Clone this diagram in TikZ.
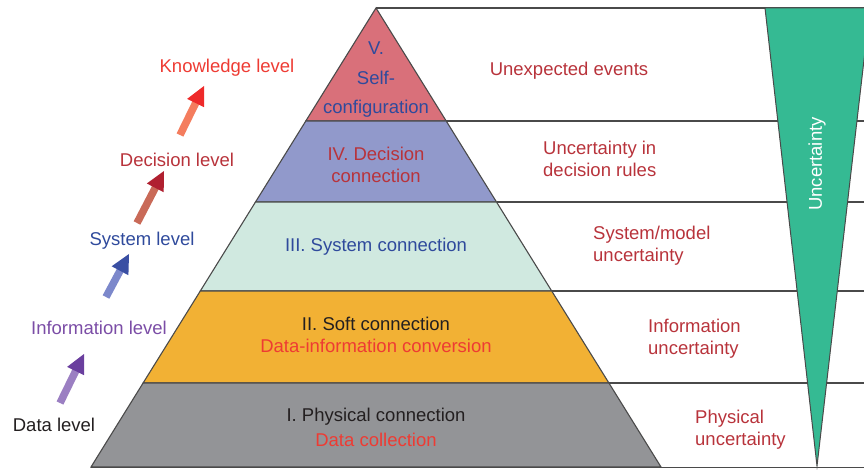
\documentclass[tikz,border=0pt]{standalone}
\usepackage{fontspec}
\setmainfont{Liberation Sans}
\usetikzlibrary{calc}
\definecolor{darkred}{HTML}{B8333B}
\definecolor{brightred}{HTML}{EE3B33}
\definecolor{bluetxt}{HTML}{2F4A9C}
\definecolor{purptxt}{HTML}{7B4DA6}
\definecolor{darktxt}{HTML}{231F20}
\definecolor{layerV}{HTML}{D9707A}
\definecolor{layerIV}{HTML}{9199CB}
\definecolor{layerIII}{HTML}{D0E9E0}
\definecolor{layerII}{HTML}{F2B134}
\definecolor{layerI}{HTML}{939497}
\definecolor{uncgreen}{HTML}{35BA93}
\definecolor{lineg}{HTML}{4A4A4A}
\definecolor{sh1}{HTML}{9B7FC2}\definecolor{hd1}{HTML}{6A3F9E}
\definecolor{sh2}{HTML}{7C88CB}\definecolor{hd2}{HTML}{3A4FA3}
\definecolor{sh3}{HTML}{C96A58}\definecolor{hd3}{HTML}{B02030}
\definecolor{sh4}{HTML}{F47D5E}\definecolor{hd4}{HTML}{EE2A2A}
\tikzset{
  txt/.style={font=\fontsize{18.5}{22}\selectfont, inner sep=0pt, align=center, yshift=-2pt},
  txtl/.style={font=\fontsize{18.5}{22}\selectfont, inner sep=0pt, align=left, yshift=-2pt},
  layer/.style={draw=lineg, line width=1.1pt},
  hline/.style={draw=lineg, line width=1.2pt},
}
\newcommand{\fatarrow}[4]{%
  \draw[line width=7.5pt, color=#3] (#1) -- ($(#2)!16pt!(#1)$);
  \fill[#4] (#2) -- ($($(#2)!19pt!(#1)$)!9.5pt!90:(#2)$) -- ($($(#2)!19pt!(#1)$)!9.5pt!-90:(#2)$) -- cycle;}
\begin{document}
\begin{tikzpicture}[x=1pt,y=-1pt]
\useasboundingbox (0,0) rectangle (864,470);
\clip (0,0) rectangle (864,470);
% pyramid layers
\coordinate (apex) at (376,8);
\filldraw[layer, fill=layerV] (apex) -- (446.2,121) -- (305.8,121) -- cycle;
\filldraw[layer, fill=layerIV] (305.8,121) -- (446.2,121) -- (496.5,202) -- (255.5,202) -- cycle;
\filldraw[layer, fill=layerIII] (255.5,202) -- (496.5,202) -- (551.7,291) -- (200.3,291) -- cycle;
\filldraw[layer, fill=layerII] (200.3,291) -- (551.7,291) -- (608.9,383) -- (143.1,383) -- cycle;
\filldraw[layer, fill=layerI] (143.1,383) -- (608.9,383) -- (661,467) -- (91,467) -- cycle;
% horizontal lines
\draw[hline] (apex) -- (864,8);
\draw[hline] (446.2,121) -- (864,121);
\draw[hline] (496.5,202) -- (864,202);
\draw[hline] (551.7,291) -- (864,291);
\draw[hline] (608.9,383) -- (864,383);
\draw[hline] (91,467.5) -- (864,467.5);
% uncertainty wedge
\filldraw[draw=lineg, line width=1pt, fill=uncgreen] (765,8) -- (870,8) -- (817,466) -- cycle;
\node[txt, yshift=2pt, text=white, rotate=90] (unc) at (817,164) {Uncertainty};
% pyramid texts
\node[txt, text=bluetxt, font=\fontsize{18.5}{29.5}\selectfont] (l5) at (376,78) {V.\\Self-\\configuration};
\node[txt, text=darkred] (l4) at (376,163) {IV. Decision\\connection};
\node[txt, text=bluetxt] (l3) at (376,245) {III. System connection};
\node[txt, text=darktxt] (l2a) at (376,322) {II. Soft connection};
\node[txt, text=brightred] (l2b) at (376,344) {Data-information conversion};
\node[txt, text=darktxt] (l1a) at (376,415) {I. Physical connection};
\node[txt, text=brightred] (l1b) at (376,438) {Data collection};
% right texts
\node[txt, text=darkred] (r5) at (569,69) {Unexpected events};
\node[txtl, text=darkred, anchor=west] (r4) at (543,157) {Uncertainty in\\decision rules};
\node[txtl, text=darkred, anchor=west] (r3) at (593,244) {System/model\\uncertainty};
\node[txtl, text=darkred, anchor=west] (r2) at (648,337) {Information\\uncertainty};
\node[txtl, text=darkred, anchor=west] (r1) at (695,428) {Physical\\uncertainty};
% left labels
\node[txt, text=brightred] (kn) at (227,66) {Knowledge level};
\node[txt, text=darkred] (de) at (177,158) {Decision level};
\node[txt, text=bluetxt] (sy) at (142,239) {System level};
\node[txt, text=purptxt] (in) at (99,326) {Information level};
\node[txt, text=darktxt] (da) at (54,423) {Data level};
% arrows
\coordinate (t1) at (60,403); \coordinate (p1) at (84,354);
\coordinate (t2) at (106,297); \coordinate (p2) at (129,254);
\coordinate (t3) at (137,223); \coordinate (p3) at (164,171);
\coordinate (t4) at (180,135); \coordinate (p4) at (204,86);
\fatarrow{t1}{p1}{sh1}{hd1}
\fatarrow{t2}{p2}{sh2}{hd2}
\fatarrow{t3}{p3}{sh3}{hd3}
\fatarrow{t4}{p4}{sh4}{hd4}
\end{tikzpicture}
\end{document}
